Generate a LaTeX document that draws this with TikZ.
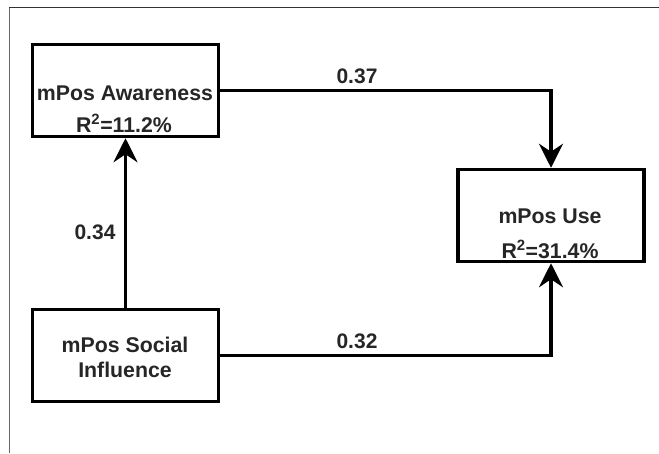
\documentclass[tikz,border=0pt]{standalone}
\usepackage{fontspec}
\setmainfont{Liberation Sans}
\usetikzlibrary{arrows.meta}
\begin{document}
\begin{tikzpicture}[x=1pt,y=-1pt,
  box/.style={draw=black,line width=3.5pt,fill=white,minimum width=186pt,minimum height=92pt,inner sep=0pt},
  conn/.style={draw=black,line width=3.2pt},
  tip/.style={-{Stealth[length=24pt,width=24pt,inset=8pt]}},
  txt/.style={anchor=base,inner sep=0pt,font=\fontsize{21.3}{24}\selectfont\bfseries,text=black!85},
  coef/.style={anchor=base,inner sep=0pt,font=\fontsize{21}{24}\selectfont\bfseries,text=black!85}]
\useasboundingbox (0,0) rectangle (659,453);
\fill[white] (0,0) rectangle (659,453);
\draw[black!60,line width=1pt] (9,453) -- (9,7);
\draw[black!80,line width=1pt] (9,7) -- (659,7);
% boxes
\node[box] (aw) at (125.5,90.5) {};
\node[box] (use) at (551,215.5) {};
\node[box] (soc) at (125.5,355.5) {};
% box texts
\node[txt] (awt1) at (125,100) {mPos Awareness};
\node[txt] (awt2) at (124,132) {R\textsuperscript{2}=11.2\%};
\node[txt] (uset1) at (550,223) {mPos Use};
\node[txt] (uset2) at (550,258) {R\textsuperscript{2}=31.4\%};
\node[txt] (soct1) at (125,352) {mPos Social};
\node[txt] (soct2) at (125,377) {Influence};
% connectors
\draw[conn,tip] (aw.east) -| (use.north);
\draw[conn,tip] (soc.east) -| (use.south);
\draw[conn,tip] (soc.north) -- (aw.south);
% coefficients
\node[coef] (c37) at (357,83) {0.37};
\node[coef] (c34) at (95,239) {0.34};
\node[coef] (c32) at (357,348) {0.32};
\end{tikzpicture}
\end{document}
